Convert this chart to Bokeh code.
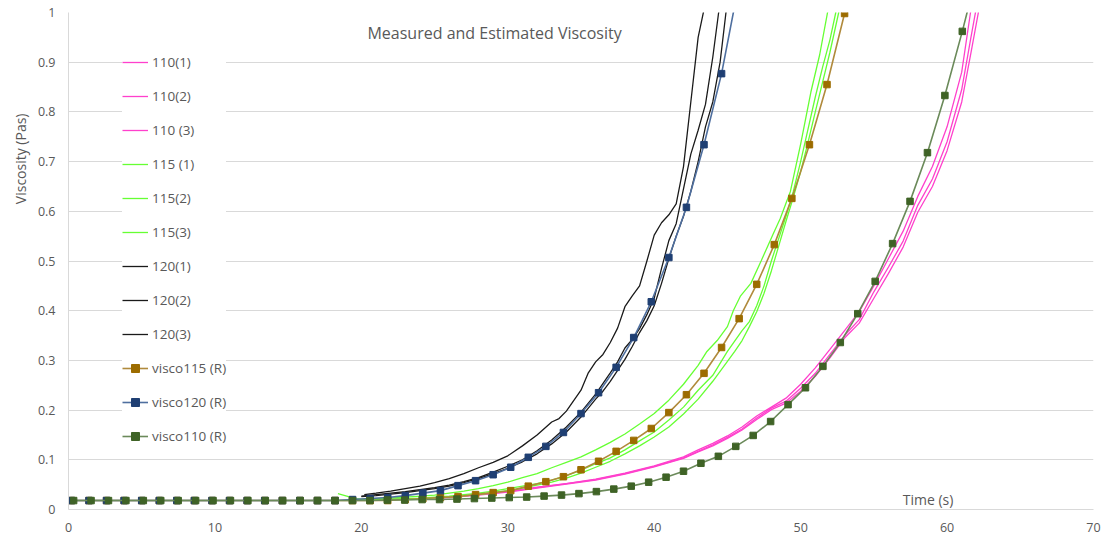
from bokeh.plotting import figure
from bokeh.models import (Range1d, FixedTicker, CustomJSTickFormatter, Label,
                          Legend, LegendItem, Title)
from bokeh.embed import file_html
from bokeh.resources import INLINE

# ---------------- data ----------------
X_TICKS = [0, 10, 20, 30, 40, 50, 60, 70]
Y_TICKS = [0, 0.1, 0.2, 0.3, 0.4, 0.5, 0.6, 0.7, 0.8, 0.9, 1.0]

# measured 110
t_110_1 = [20, 22, 24, 26, 28, 30, 32, 34, 36, 38, 40, 42, 43, 44, 45, 46, 47, 48, 49, 50,
           51, 52, 53, 54, 55, 56, 57, 58, 59, 60, 61, 61.6, 62.0]
v_110_1 = [0.020, 0.021, 0.022, 0.025, 0.030, 0.037, 0.045, 0.052, 0.061, 0.073, 0.088, 0.106,
           0.120, 0.133, 0.148, 0.166, 0.188, 0.206, 0.224, 0.252, 0.285, 0.322, 0.360, 0.398,
           0.450, 0.505, 0.560, 0.630, 0.690, 0.770, 0.880, 1.0, 1.07]
t_110_2 = [20, 22, 24, 26, 28, 30, 32, 34, 36, 38, 40, 42, 43, 44, 45, 46, 47, 48, 49, 50,
           51, 52, 53, 54, 55, 56, 57, 58, 59, 60, 61, 61.6, 62.0]
v_110_2 = [0.020, 0.021, 0.022, 0.025, 0.030, 0.036, 0.044, 0.052, 0.060, 0.072, 0.087, 0.104,
           0.117, 0.130, 0.145, 0.162, 0.184, 0.204, 0.218, 0.244, 0.274, 0.312, 0.350, 0.382,
           0.438, 0.488, 0.540, 0.612, 0.665, 0.740, 0.845, 0.945, 1.01]
t_110_3 = [20, 22, 24, 26, 28, 30, 32, 34, 36, 38, 40, 42, 43, 44, 45, 46, 47, 48, 49, 50,
           51, 52, 53, 54, 55, 56, 57, 58, 59, 60, 61, 61.7, 62.2]
v_110_3 = [0.019, 0.020, 0.022, 0.024, 0.029, 0.035, 0.043, 0.051, 0.059, 0.071, 0.086, 0.103,
           0.116, 0.128, 0.143, 0.160, 0.181, 0.201, 0.214, 0.238, 0.268, 0.305, 0.345, 0.375,
           0.425, 0.475, 0.528, 0.598, 0.650, 0.722, 0.820, 0.930, 1.01]

# measured 115
t_115_1 = [18.4, 19.0, 19.6, 20, 21, 22, 23, 24, 25, 26, 27, 28, 29, 30, 31, 32, 33, 34, 35,
           36, 37, 38, 39, 40, 41, 42, 43, 43.6, 44.3, 45.0, 45.4, 45.9, 46.6, 47.3, 48.1,
           48.6, 49.3, 50.0, 50.7, 51.3, 51.9, 52.3]
v_115_1 = [0.032, 0.027, 0.022, 0.021, 0.022, 0.023, 0.025, 0.027, 0.029, 0.033, 0.037, 0.042,
           0.048, 0.055, 0.064, 0.072, 0.084, 0.095, 0.106, 0.120, 0.135, 0.152, 0.172, 0.193,
           0.220, 0.252, 0.290, 0.318, 0.340, 0.368, 0.400, 0.430, 0.455, 0.500, 0.553, 0.585,
           0.640, 0.735, 0.840, 0.915, 1.01, 1.08]
t_115_2 = [20, 22, 24, 26, 28, 29, 30, 31, 32, 33, 34, 35, 36, 37, 38, 39, 40, 41, 42, 43, 44,
           45, 46, 46.5, 47, 47.5, 48, 48.5, 49, 49.5, 50, 50.5, 51, 51.5, 52, 52.4, 52.8]
v_115_2 = [0.020, 0.021, 0.023, 0.027, 0.033, 0.037, 0.042, 0.047, 0.052, 0.059, 0.068, 0.079,
           0.092, 0.104, 0.120, 0.138, 0.156, 0.180, 0.206, 0.240, 0.270, 0.318, 0.360, 0.378,
           0.410, 0.450, 0.500, 0.545, 0.590, 0.640, 0.700, 0.765, 0.830, 0.890, 0.945, 1.0, 1.07]
t_115_3 = [20, 22, 24, 26, 28, 29, 30, 31, 32, 33, 34, 35, 36, 37, 38, 39, 40, 41, 42, 43, 44,
           45, 45.5, 46, 46.5, 47, 47.5, 48, 48.5, 49, 49.5, 50, 50.5, 51, 51.5, 52, 52.6, 53.0]
v_115_3 = [0.019, 0.020, 0.022, 0.025, 0.030, 0.034, 0.038, 0.043, 0.049, 0.055, 0.063, 0.073,
           0.085, 0.097, 0.112, 0.128, 0.146, 0.166, 0.192, 0.222, 0.258, 0.298, 0.318, 0.340,
           0.368, 0.398, 0.435, 0.480, 0.530, 0.580, 0.628, 0.680, 0.738, 0.800, 0.860, 0.920,
           1.0, 1.07]

# measured 120
t_120_1 = [20.2, 21, 22, 23, 24, 25, 26, 27, 28, 29, 30, 31, 32, 33, 33.5, 34, 35, 35.5, 36,
           36.5, 37, 37.5, 38, 38.5, 39, 39.5, 40, 40.5, 41, 41.5, 42, 42.5, 43, 43.5, 44]
v_120_1 = [0.030, 0.033, 0.037, 0.042, 0.047, 0.054, 0.062, 0.072, 0.084, 0.095, 0.108, 0.128,
           0.150, 0.176, 0.183, 0.198, 0.240, 0.275, 0.297, 0.312, 0.336, 0.365, 0.408, 0.430,
           0.450, 0.500, 0.552, 0.577, 0.593, 0.615, 0.690, 0.820, 0.950, 1.02, 1.10]
t_120_2 = [20.0, 21, 22, 23, 24, 25, 26, 27, 28, 29, 30, 31, 32, 33, 34, 35, 36, 37, 37.5, 38,
           38.5, 39, 39.5, 40, 40.5, 41, 41.5, 42, 42.5, 43, 43.5, 44, 44.4, 44.8]
v_120_2 = [0.027, 0.030, 0.033, 0.036, 0.040, 0.044, 0.049, 0.056, 0.064, 0.075, 0.087, 0.100,
           0.118, 0.140, 0.166, 0.196, 0.232, 0.275, 0.297, 0.325, 0.342, 0.364, 0.392, 0.425,
           0.485, 0.541, 0.575, 0.645, 0.715, 0.763, 0.815, 0.910, 1.0, 1.08]
t_120_3 = [20.0, 21, 22, 23, 24, 25, 26, 27, 28, 29, 30, 31, 32, 33, 34, 35, 36, 36.5, 37,
           37.5, 38, 38.5, 39, 39.5, 40, 40.5, 41, 41.5, 42, 42.5, 43, 43.5, 44, 44.5, 44.9, 45.3]
v_120_3 = [0.026, 0.028, 0.031, 0.034, 0.038, 0.042, 0.047, 0.054, 0.062, 0.072, 0.083, 0.096,
           0.112, 0.132, 0.156, 0.186, 0.222, 0.238, 0.258, 0.280, 0.302, 0.328, 0.356, 0.380,
           0.410, 0.455, 0.505, 0.550, 0.590, 0.640, 0.700, 0.770, 0.820, 0.900, 1.0, 1.08]

# estimated (R) series
t_r110 = [0.35, 1.54, 2.73, 3.92, 5.11, 6.30, 7.49, 8.68, 9.87, 11.06, 12.25, 13.44, 14.63,
          15.82, 17.01, 18.20, 19.39, 20.58, 21.77, 22.96, 24.15, 25.34, 26.53, 27.72, 28.91,
          30.10, 31.29, 32.48, 33.67, 34.86, 36.05, 37.24, 38.43, 39.62, 40.81, 42.00, 43.19,
          44.38, 45.57, 46.76, 47.95, 49.14, 50.33, 51.52, 52.71, 53.90, 55.09, 56.28, 57.47,
          58.66, 59.85, 61.04, 62.23]
v_r110 = [0.018, 0.018, 0.018, 0.018, 0.018, 0.018, 0.018, 0.018, 0.018, 0.018, 0.018, 0.018,
          0.018, 0.018, 0.018, 0.018, 0.018, 0.018, 0.019, 0.019, 0.020, 0.020, 0.021, 0.022,
          0.023, 0.024, 0.025, 0.027, 0.029, 0.032, 0.036, 0.041, 0.047, 0.055, 0.065, 0.077,
          0.093, 0.107, 0.127, 0.149, 0.177, 0.211, 0.245, 0.288, 0.336, 0.394, 0.459, 0.535,
          0.620, 0.718, 0.833, 0.962, 1.10]

t_r115 = [0.2, 1.4, 2.6, 3.8, 5.0, 6.2, 7.4, 8.6, 9.8, 11.0, 12.2, 13.4, 14.6, 15.8, 17.0,
          18.2, 19.4, 20.6, 21.8, 23.0, 24.2, 25.4, 26.6, 27.8, 29.0, 30.2, 31.4, 32.6, 33.8,
          35.0, 36.2, 37.4, 38.6, 39.8, 41.0, 42.2, 43.4, 44.6, 45.8, 47.0, 48.2, 49.4, 50.6,
          51.8, 53.0]
v_r115 = [0.018, 0.018, 0.018, 0.018, 0.018, 0.018, 0.018, 0.018, 0.018, 0.018, 0.018, 0.018,
          0.018, 0.018, 0.018, 0.018, 0.018, 0.018, 0.018, 0.020, 0.022, 0.024, 0.026, 0.030,
          0.034, 0.038, 0.047, 0.056, 0.066, 0.080, 0.097, 0.117, 0.139, 0.163, 0.195, 0.231,
          0.274, 0.326, 0.384, 0.453, 0.533, 0.626, 0.734, 0.855, 0.998]

t_r120 = [0.2, 1.4, 2.6, 3.8, 5.0, 6.2, 7.4, 8.6, 9.8, 11.0, 12.2, 13.4, 14.6, 15.8, 17.0,
          18.2, 19.4, 20.6, 21.8, 23.0, 24.2, 25.4, 26.6, 27.8, 29.0, 30.2, 31.4, 32.6, 33.8,
          35.0, 36.2, 37.4, 38.6, 39.8, 41.0, 42.2, 43.4, 44.6, 45.8]
v_r120 = [0.018, 0.018, 0.018, 0.018, 0.018, 0.018, 0.018, 0.018, 0.018, 0.018, 0.018, 0.018,
          0.018, 0.018, 0.018, 0.018, 0.020, 0.022, 0.024, 0.028, 0.033, 0.038, 0.048, 0.058,
          0.070, 0.085, 0.105, 0.127, 0.155, 0.193, 0.235, 0.286, 0.346, 0.418, 0.507, 0.608,
          0.734, 0.877, 1.06]

# ---------------- styling ----------------
FONT = "Open Sans"
TXT = "#595959"
GRID = "#d9d9d9"
PINK = "#ff40cc"
LGREEN = "#66ff33"
BLACK = "#1a1a1a"

p = figure(width=1101, height=538, x_range=Range1d(0, 70), y_range=Range1d(0, 1),
           output_backend="svg", toolbar_location=None,
           min_border_left=68, min_border_right=8, min_border_top=12, min_border_bottom=29)
p.outline_line_color = None
p.background_fill_color = "white"
p.border_fill_color = "white"

p.xgrid.grid_line_color = None
p.ygrid.grid_line_color = GRID
p.ygrid.grid_line_width = 1

p.xaxis.ticker = FixedTicker(ticks=X_TICKS)
p.yaxis.ticker = FixedTicker(ticks=Y_TICKS)
p.yaxis.formatter = CustomJSTickFormatter(code="return (Math.round(tick*10)/10).toString();")
for ax in (p.xaxis[0], p.yaxis[0]):
    ax.axis_line_color = GRID
    ax.major_tick_line_color = None
    ax.minor_tick_line_color = None
    ax.major_tick_out = 0
    ax.minor_tick_out = 0
    ax.major_label_text_color = TXT
    ax.major_label_text_font = FONT
    ax.major_label_text_font_size = "12.5px"
p.xaxis.major_label_standoff = 13
p.yaxis.major_label_standoff = 13

items = []

def meas(t, v, color, name):
    r = p.line(t, v, line_color=color, line_width=1.3)
    items.append(LegendItem(label=name, renderers=[r]))

meas(t_110_1, v_110_1, PINK, "110(1)")
meas(t_110_2, v_110_2, PINK, "110(2)")
meas(t_110_3, v_110_3, PINK, "110 (3)")
meas(t_115_1, v_115_1, LGREEN, "115 (1)")
meas(t_115_2, v_115_2, LGREEN, "115(2)")
meas(t_115_3, v_115_3, LGREEN, "115(3)")
meas(t_120_1, v_120_1, BLACK, "120(1)")
meas(t_120_2, v_120_2, BLACK, "120(2)")
meas(t_120_3, v_120_3, BLACK, "120(3)")

def model(t, v, lcolor, mcolor, name):
    r1 = p.line(t, v, line_color=lcolor, line_width=1.6)
    r2 = p.scatter(t, v, marker="square", size=6.5, fill_color=mcolor, line_color=mcolor)
    items.append(LegendItem(label=name, renderers=[r1, r2]))

model(t_r115, v_r115, "#b08a3c", "#9c6c00", "visco115 (R)")
model(t_r120, v_r120, "#4f6f9f", "#1f3f73", "visco120 (R)")
model(t_r110, v_r110, "#6b8a5a", "#3f6326", "visco110 (R)")

legend = Legend(items=items, location=(54, 63), orientation="vertical",
                background_fill_color="white", background_fill_alpha=1.0,
                border_line_color=None, padding=8, spacing=14,
                glyph_width=26, glyph_height=20, label_height=20, label_standoff=4,
                label_text_font=FONT, label_text_font_size="13.5px", label_text_color=TXT,
                margin=0)
p.add_layout(legend)

p.add_layout(Label(x=29.1, y=0.958, text="Measured and Estimated Viscosity",
                   text_align="center", text_baseline="middle", text_font=FONT,
                   text_font_size="16px", text_color=TXT))
p.add_layout(Label(x=58.7, y=0.020, text="Time (s)", text_align="center",
                   text_baseline="middle", text_font=FONT, text_font_size="14px",
                   text_color=TXT))
p.add_layout(Title(text="Viscosity (Pas)", align="right", offset=101,
                   text_font=FONT, text_font_size="14px", text_font_style="normal",
                   text_color=TXT, standoff=10), "left")

open("out.html", "w").write(file_html(p, INLINE))
